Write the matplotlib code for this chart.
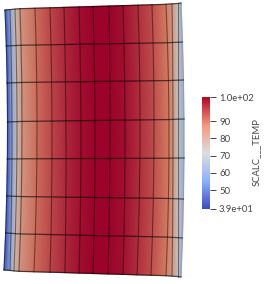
import numpy as np
import matplotlib
matplotlib.use('Agg')
import matplotlib.pyplot as plt
from matplotlib.colors import LinearSegmentedColormap, Normalize
from matplotlib.cm import ScalarMappable

# node positions in picture pixels, one row per mesh row, left to right
x_top = [5, 10, 15, 20, 35, 50, 64, 79, 93, 109, 123, 138, 152, 166, 172, 178, 181]
x_mid = [7.5, 12, 17, 22, 37, 52, 66, 81, 95, 110, 125, 140, 154, 169, 173, 178, 184]
x_bot = [4, 10, 14, 19, 34, 50, 65, 79, 93, 108, 123, 137, 151, 166, 172, 178, 181]
y_left = [10, 46, 83, 122, 159, 196, 233, 270]
y_right = [3, 42, 80, 119, 158, 199, 238, 277]

# temperature along a row
temp = [39, 58, 74, 82, 90, 95, 99, 102, 104, 104, 102, 98, 94, 88, 82, 71, 60]

tick_vals = [104, 90, 80, 70, 60, 50, 39]
tick_labels = ['1.0e+02', '90', '80', '70', '60', '50', '3.9e+01']
bar_label = 'SCALC___TEMP'

plt.rcParams['font.family'] = ['Lato', 'DejaVu Sans']

stops = np.array([(59, 76, 192), (141, 176, 254), (221, 221, 221), (244, 152, 122), (180, 4, 38)]) / 255
cmap = LinearSegmentedColormap.from_list('cool_warm', stops)
# the mesh is lit, so it sits a little darker and warmer than the bar
mesh_stops = np.array([(60, 85, 185), (130, 160, 220), (200, 195, 190), (212, 125, 98), (155, 3, 42)]) / 255
mesh_cmap = LinearSegmentedColormap.from_list('cool_warm_lit', mesh_stops)
norm = Normalize(39, 104)

fig = plt.figure(figsize=(2.67, 2.84), dpi=100)
ax = fig.add_axes([0, 0, 1, 1])

# bend each column: top, middle, bottom
xt, xm, xb = np.array(x_top), np.array(x_mid), np.array(x_bot)
yl, yr = np.array(y_left), np.array(y_right)
s = np.linspace(0, 1, len(xt))
t = np.linspace(0, 1, len(yl))
X = np.array([(1 - u) * (1 - 2 * u) * xt + 4 * u * (1 - u) * xm + u * (2 * u - 1) * xb for u in t])
Y = np.array([(1 - s) * yl[i] + s * yr[i] for i in range(len(yl))])
C = np.tile(temp, (len(yl), 1))

ax.pcolormesh(X, Y, C, cmap=mesh_cmap, norm=norm, shading='gouraud')
for j in range(X.shape[1] - 1):
    ax.plot(X[:, j], Y[:, j], color='k', lw=0.8, alpha=0.45)
ax.plot(X[:, -1], Y[:, -1], color='#8899aa', lw=0.8, alpha=0.6)
for i in range(X.shape[0]):
    ax.plot(X[i], Y[i], color='k', lw=0.9, alpha=0.6)
ax.set_xlim(0, 267)
ax.set_ylim(284, 0)
ax.axis('off')

cax = fig.add_axes([202 / 267, 1 - 209 / 284, 8 / 267, 112 / 284])
cb = fig.colorbar(ScalarMappable(norm=norm, cmap=cmap), cax=cax)
cb.outline.set_visible(False)
cb.set_ticks(tick_vals, labels=tick_labels)
cb.ax.tick_params(length=4, width=0.7, pad=2.5, labelsize=6.8, colors='#444444')
cb.ax.text(256, 152, bar_label, transform=ax.transData, rotation=90, ha='center', va='center', fontsize=6.8, color='#444444')

fig.savefig('out.png', dpi=100)
